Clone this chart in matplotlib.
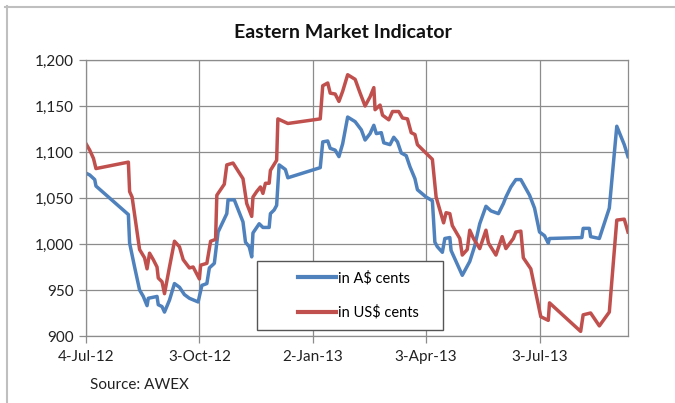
import datetime as dt
import matplotlib
matplotlib.use('Agg')
import matplotlib.pyplot as plt
from matplotlib.lines import Line2D
from matplotlib.patches import Rectangle

plt.rcParams['font.family'] = ['Lato', 'DejaVu Sans']

# 数据：距 2012-07-04 的天数与指标值（美分）
start = dt.datetime(2012, 7, 4)

aud_days = [0, 3, 7, 8, 34, 35, 39, 43, 46, 49, 50, 57, 58, 61, 63, 67, 71, 75, 79, 83,
            90, 93, 97, 99, 103, 106, 113, 114, 119, 126, 128, 131, 133, 134, 139, 142,
            147, 148, 151, 153, 155, 160, 162, 188, 190, 194, 196, 200, 203, 206, 210,
            216, 221, 224, 228, 231, 233, 237, 239, 244, 247, 250, 253, 257, 260, 264,
            266, 273, 278, 280, 282, 286, 288, 292, 293, 302, 308, 312, 316, 321, 325,
            331, 335, 337, 341, 345, 349, 356, 360, 364, 368, 371, 372, 398, 399, 404,
            405, 412, 420, 426, 432, 435]
aud_vals = [1077, 1075, 1070, 1063, 1032, 1001, 975, 950, 943, 933, 941, 943, 934, 932,
            926, 939, 957, 953, 945, 941, 937, 955, 957, 974, 979, 1013, 1033, 1048,
            1048, 1024, 1002, 997, 986, 1012, 1022, 1018, 1018, 1033, 1037, 1042, 1086,
            1081, 1072, 1083, 1111, 1112, 1104, 1102, 1095, 1109, 1138, 1133, 1124, 1113,
            1120, 1129, 1120, 1121, 1110, 1108, 1116, 1111, 1099, 1096, 1084, 1071, 1059,
            1051, 1047, 1002, 997, 991, 1006, 1007, 993, 966, 981, 998, 1022, 1041, 1036,
            1033, 1044, 1051, 1062, 1070, 1070, 1053, 1039, 1013, 1009, 1001, 1006, 1007,
            1017, 1017, 1008, 1006, 1039, 1128, 1108, 1095]

usd_days = [0, 3, 6, 8, 34, 35, 37, 43, 47, 49, 51, 54, 57, 58, 61, 63, 67, 71, 75, 78,
            83, 86, 91, 92, 97, 100, 104, 105, 111, 113, 118, 126, 129, 133, 134, 137,
            140, 142, 144, 147, 148, 153, 154, 162, 188, 190, 194, 196, 200, 203, 206,
            210, 216, 220, 224, 228, 231, 232, 236, 238, 243, 246, 251, 254, 258, 261,
            264, 266, 278, 281, 287, 289, 292, 294, 300, 302, 306, 308, 311, 316, 321,
            323, 329, 334, 337, 343, 345, 349, 351, 357, 365, 371, 372, 397, 399, 405,
            412, 420, 426, 432, 435]
usd_vals = [1109, 1102, 1093, 1082, 1089, 1057, 1051, 994, 985, 973, 990, 983, 975, 963,
            959, 946, 975, 1003, 997, 983, 974, 975, 962, 977, 979, 1003, 1005, 1053,
            1065, 1086, 1088, 1071, 1044, 1030, 1051, 1057, 1062, 1055, 1066, 1066, 1080,
            1091, 1136, 1131, 1136, 1172, 1175, 1164, 1163, 1155, 1166, 1184, 1179, 1164,
            1150, 1160, 1170, 1146, 1151, 1140, 1135, 1144, 1144, 1137, 1136, 1121, 1119,
            1108, 1092, 1051, 1023, 1034, 1033, 1020, 1006, 988, 994, 1015, 1006, 995,
            1015, 1001, 988, 1008, 995, 1006, 1013, 1014, 985, 973, 921, 917, 936, 905,
            923, 925, 911, 926, 1026, 1027, 1013]

tick_days = [0, 91, 182, 273, 364]

series_names = ['in A$ cents', 'in US$ cents']
colors = ['#4F81BD', '#C0504D']


def to_dates(days):
    return [start + dt.timedelta(days=d) for d in days]


fig = plt.figure(figsize=(6.75, 4.03), dpi=100)
ax = fig.add_axes([86 / 675, 1 - 336 / 403, 542 / 675, 276 / 403])

ax.plot(to_dates(aud_days), aud_vals, color=colors[0], lw=2.5, solid_joinstyle='round')
ax.plot(to_dates(usd_days), usd_vals, color=colors[1], lw=2.5, solid_joinstyle='round')

ax.set_xlim(start, start + dt.timedelta(days=435))
ax.set_ylim(900, 1200)
ax.set_yticks(range(900, 1201, 50))
ax.set_yticklabels([f'{v:,}' for v in range(900, 1201, 50)])
ticks = to_dates(tick_days)
ax.set_xticks(ticks)
ax.set_xticklabels([f"{d.day}-{d.strftime('%b-%y')}" for d in ticks])

grid_c = '#8C8C8C'
ax.grid(True, color=grid_c, lw=0.9)
ax.set_axisbelow(True)
for s in ax.spines.values():
    s.set_color(grid_c)
    s.set_linewidth(0.9)
ax.tick_params(axis='both', color=grid_c, length=5, width=0.9, labelsize=11,
               labelcolor='#222222')
ax.tick_params(axis='y', pad=4)
ax.tick_params(axis='x', pad=5)

fig.text(343 / 675, 1 - 33 / 403, 'Eastern Market Indicator', fontsize=14,
         fontweight='bold', ha='center', va='center', color='#111111')

# 图例框
ax.add_patch(Rectangle((0.3155, 0.0217), 0.343, 0.25, transform=ax.transAxes,
                       facecolor='white', edgecolor='#555555', lw=1.0, zorder=5))
handles = [Line2D([], [], color=c, lw=3) for c in colors]
ax.legend(handles, series_names, loc='center left', bbox_to_anchor=(0.367, 0.147),
          frameon=False, fontsize=10.5, handlelength=2.6, handletextpad=0.12,
          labelspacing=1.35).set_zorder(6)

fig.text(90 / 675, 1 - 385 / 403, 'Source: AWEX', fontsize=11, va='center', ha='left',
         color='#222222')

# 外框
border = '#BFBFBF'
fig.add_artist(Line2D([5 / 675, 1], [1 - 7 / 403, 1 - 7 / 403], color=border, lw=1.5))
fig.add_artist(Line2D([7 / 675, 7 / 675], [0, 1 - 6 / 403], color=border, lw=1.5))

fig.savefig('out.png', dpi=100)
